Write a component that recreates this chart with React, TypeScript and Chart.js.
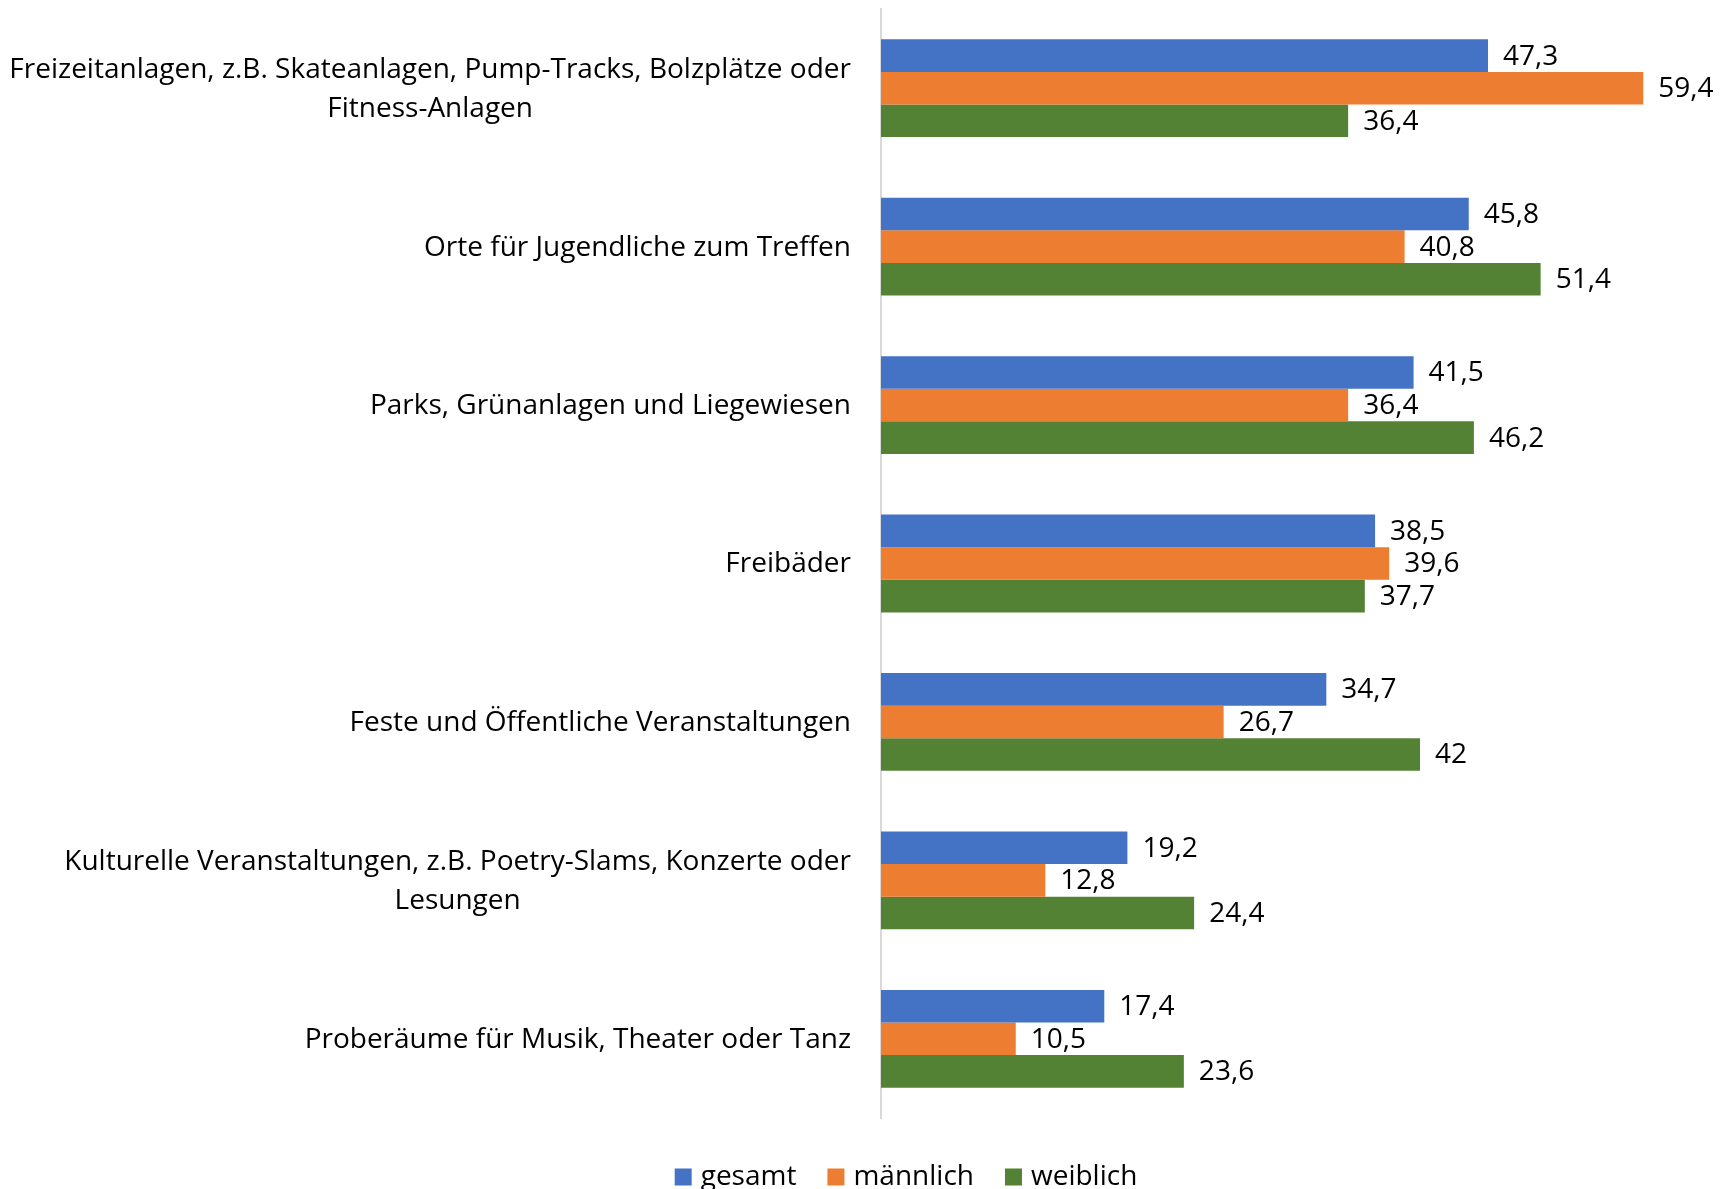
import React, { useEffect, useRef } from "react";
import { Chart, registerables } from "chart.js";

Chart.register(...registerables);

const categories: (string | string[])[] = [
  ["Freizeitanlagen, z.B. Skateanlagen, Pump-Tracks, Bolzplätze oder", "Fitness-Anlagen"],
  "Orte für Jugendliche zum Treffen",
  "Parks, Grünanlagen und Liegewiesen",
  "Freibäder",
  "Feste und Öffentliche Veranstaltungen",
  ["Kulturelle Veranstaltungen, z.B. Poetry-Slams, Konzerte oder", "Lesungen"],
  "Proberäume für Musik, Theater oder Tanz",
];

const gesamt = [47.3, 45.8, 41.5, 38.5, 34.7, 19.2, 17.4];
const maennlich = [59.4, 40.8, 36.4, 39.6, 26.7, 12.8, 10.5];
const weiblich = [36.4, 51.4, 46.2, 37.7, 42, 24.4, 23.6];

const seriesNames = ["gesamt", "männlich", "weiblich"];
const seriesColors = ["#4472C4", "#ED7D31", "#548235"];

const FONT_FAMILY = "'Open Sans', Lato, sans-serif";
const FONT_SIZE = 28;
const VALUE_FONT_SIZE = 28;
const LINE_HEIGHT = 38.7;

function fmt(v: number): string {
  return String(v).replace(".", ",");
}

const yLabelPlugin = {
  id: "yLabels",
  afterDraw(chart: any) {
    const ctx = chart.ctx;
    const yScale = chart.scales.y;
    const area = chart.chartArea;
    ctx.save();
    ctx.font = `${FONT_SIZE}px ${FONT_FAMILY}`;
    ctx.fillStyle = "#000";
    ctx.textBaseline = "middle";
    ctx.textAlign = "center";
    const rightEdge = area.left - 30;
    categories.forEach((lab, i) => {
      const lines = Array.isArray(lab) ? lab : [lab];
      const y = yScale.getPixelForTick(i);
      const w = Math.max(...lines.map((l) => ctx.measureText(l).width));
      const cx = rightEdge - w / 2;
      lines.forEach((l, j) => {
        ctx.fillText(l, cx, y + 1 + (j - (lines.length - 1) / 2) * LINE_HEIGHT);
      });
    });
    ctx.restore();
  },
};

const valueLabelPlugin = {
  id: "valueLabels",
  afterDatasetsDraw(chart: any) {
    const ctx = chart.ctx;
    ctx.save();
    ctx.font = `${VALUE_FONT_SIZE}px ${FONT_FAMILY}`;
    ctx.fillStyle = "#000";
    ctx.textBaseline = "middle";
    ctx.textAlign = "left";
    chart.data.datasets.forEach((ds: any, di: number) => {
      const meta = chart.getDatasetMeta(di);
      meta.data.forEach((bar: any, i: number) => {
        ctx.fillText(fmt(ds.data[i]), bar.x + 15, bar.y + 1);
      });
    });
    ctx.restore();
  },
};

const legendPlugin = {
  id: "customLegend",
  afterDraw(chart: any) {
    const ctx = chart.ctx;
    ctx.save();
    ctx.font = `${VALUE_FONT_SIZE}px ${FONT_FAMILY}`;
    ctx.textBaseline = "middle";
    ctx.textAlign = "left";
    const box = 17;
    const gap = 9;
    const itemGap = 31;
    const widths = seriesNames.map((n) => box + gap + ctx.measureText(n).width);
    const total = widths.reduce((a, b) => a + b, 0) + itemGap * (seriesNames.length - 1);
    let x = 906 - total / 2;
    const y = 1177;
    seriesNames.forEach((n, i) => {
      ctx.fillStyle = seriesColors[i];
      ctx.fillRect(x, y - box / 2, box, box);
      ctx.fillStyle = "#000";
      ctx.fillText(n, x + box + gap, y);
      x += widths[i] + itemGap;
    });
    ctx.restore();
  },
};

export default function App() {
  const ref = useRef<HTMLCanvasElement | null>(null);
  useEffect(() => {
    if (!ref.current) return;
    const chart = new Chart(ref.current, {
      type: "bar",
      data: {
        labels: categories.map((c) => (Array.isArray(c) ? c.join(" ") : c)),
        datasets: [
          { label: seriesNames[0], data: gesamt, backgroundColor: seriesColors[0] },
          { label: seriesNames[1], data: maennlich, backgroundColor: seriesColors[1] },
          { label: seriesNames[2], data: weiblich, backgroundColor: seriesColors[2] },
        ],
      },
      options: {
        indexAxis: "y",
        animation: false,
        responsive: false,
        maintainAspectRatio: false,
        layout: { padding: { top: 9, right: 82, bottom: 71, left: 0 } },
        datasets: {
          bar: { categoryPercentage: 0.617, barPercentage: 1.0, borderWidth: 0 },
        },
        plugins: {
          legend: { display: false },
          tooltip: { enabled: false },
          title: { display: false },
        },
        scales: {
          x: {
            display: false,
            min: 0,
            max: 60,
          },
          y: {
            display: true,
            ticks: { display: false },
            grid: { display: false },
            border: { display: true, color: "#d9d9d9", width: 2 },
            afterFit(scale: any) {
              scale.width = 881;
            },
          },
        },
      },
      plugins: [yLabelPlugin, valueLabelPlugin, legendPlugin],
    });
    return () => chart.destroy();
  }, []);
  return (
    <div style={{ position: "absolute", left: 0, top: 0, width: 1733, height: 1189, background: "#fff" }}>
      <canvas ref={ref} width={1733} height={1189} />
    </div>
  );
}
